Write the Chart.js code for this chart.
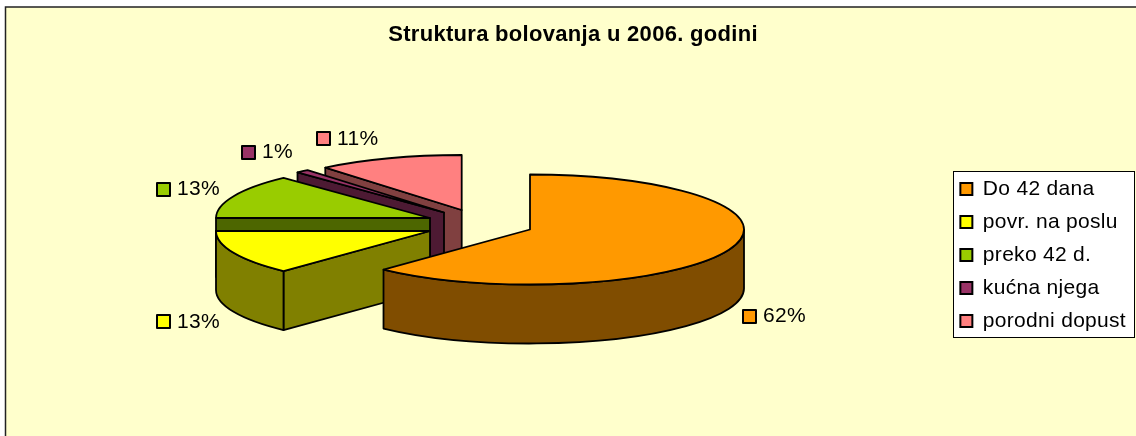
<!DOCTYPE html>
<html>
<head>
<meta charset="utf-8">
<style>
  html, body { margin: 0; padding: 0; background: #fff; overflow: hidden; }
  canvas { display: block; }
</style>
<script src="https://cdn.jsdelivr.net/npm/chart.js"></script>
</head>
<body>
<canvas id="grafikon" width="1136" height="436"></canvas>
<script>
const naslov = 'Struktura bolovanja u 2006. godini';
const kategorije = ['Do 42 dana', 'povr. na poslu', 'preko 42 d.', 'kućna njega', 'porodni dopust'];
const vrijednosti = [62, 13, 13, 1, 11];
const boje = ['#FF9900', '#FFFF00', '#99CC00', '#993366', '#FF8080'];
const bojeStrane = ['#804D00', '#808000', '#4D6600', '#4D1A33', '#804040'];

// flattened pie: centre on screen, vertical squash, thickness
const pieX = 488.5, pieY = 225, squash = 0.257, depth = 59;
const fontName = '"Liberation Sans", Arial, sans-serif';
const lineW = 1.8;

function geom(chart, i) {
  const el = chart.getDatasetMeta(0).data[i];
  const p = el.getProps(['startAngle', 'endAngle', 'outerRadius'], true);
  const ds = chart.data.datasets[0];
  return {
    a0: p.startAngle, a1: p.endAngle, mid: (p.startAngle + p.endAngle) / 2,
    x: pieX + ds.explodeX[i],
    y: pieY + ds.explodeY[i],
    rx: p.outerRadius,
    ry: p.outerRadius * squash
  };
}

function stranaRadijus(ctx, g, a) {
  const ex = g.x + Math.cos(a) * g.rx, ey = g.y + Math.sin(a) * g.ry;
  ctx.beginPath();
  ctx.moveTo(g.x, g.y);
  ctx.lineTo(ex, ey);
  ctx.lineTo(ex, ey + depth);
  ctx.lineTo(g.x, g.y + depth);
  ctx.closePath();
  ctx.fill();
  ctx.stroke();
}

const pie3d = {
  id: 'pie3d',
  beforeUpdate(chart) {
    // reference text runs a bit wider than Liberation at this height
    chart.ctx.letterSpacing = '0.3px';
  },
  afterDatasetsUpdate(chart) {
    // pull the slices apart, explode values are in screen pixels
    const ca = chart.chartArea, ds = chart.data.datasets[0];
    chart.getDatasetMeta(0).data.forEach((el, i) => {
      el.x = (ca.left + ca.right) / 2 + ds.explodeX[i];
      el.y = (ca.top + ca.bottom) / 2 + ds.explodeY[i] / squash;
    });
  },
  beforeDraw(chart) {
    const ctx = chart.ctx;
    ctx.save();
    ctx.fillStyle = '#fff';
    ctx.fillRect(0, 0, chart.width, chart.height);
    ctx.fillStyle = '#FFFFCC';
    ctx.fillRect(5, 7, chart.width, chart.height);
    ctx.strokeStyle = '#222';
    ctx.lineWidth = 1.5;
    ctx.beginPath();
    ctx.moveTo(5.5, chart.height);
    ctx.lineTo(5.5, 7);
    ctx.lineTo(chart.width, 7);
    ctx.stroke();
    // legend box
    const hb = chart.legend.legendHitBoxes, last = hb[hb.length - 1];
    const top = Math.round(hb[0].top + hb[0].height / 2 - 18) + 0.5;
    const bot = Math.round(last.top + last.height / 2 + 16) + 0.5;
    ctx.fillStyle = '#fff';
    ctx.fillRect(953.5, top, 181, bot - top);
    ctx.strokeStyle = '#000';
    ctx.lineWidth = 1;
    ctx.strokeRect(953.5, top, 181, bot - top);
    ctx.restore();
  },
  beforeDatasetsDraw(chart) {
    const ctx = chart.ctx, n = vrijednosti.length, ca = chart.chartArea;
    ctx.save();
    ctx.lineWidth = lineW;
    ctx.strokeStyle = '#000';
    ctx.lineJoin = 'round';
    // sides, back to front
    for (let i = n - 1; i >= 0; i--) {
      const g = geom(chart, i);
      ctx.fillStyle = bojeStrane[i];
      if (Math.cos(g.a0) < -1e-6) stranaRadijus(ctx, g, g.a0);
      if (Math.cos(g.a1) > 1e-6) stranaRadijus(ctx, g, g.a1);
      const lo = Math.max(g.a0, 0), hi = Math.min(g.a1, Math.PI);
      if (hi > lo) {
        ctx.beginPath();
        ctx.ellipse(g.x, g.y, g.rx, g.ry, 0, lo, hi);
        ctx.ellipse(g.x, g.y + depth, g.rx, g.ry, 0, hi, lo, true);
        ctx.closePath();
        ctx.fill();
        ctx.stroke();
      }
    }
    ctx.restore();
    // top faces are the library's own arcs, just flattened
    ctx.save();
    ctx.translate(pieX, pieY);
    ctx.scale(1, squash);
    ctx.translate(-(ca.left + ca.right) / 2, -(ca.top + ca.bottom) / 2);
  },
  afterDatasetsDraw(chart) {
    const ctx = chart.ctx, n = vrijednosti.length;
    ctx.restore();
    ctx.save();
    ctx.lineWidth = lineW;
    ctx.strokeStyle = '#000';
    ctx.lineJoin = 'round';
    for (let i = 0; i < n; i++) {
      const g = geom(chart, i);
      ctx.beginPath();
      ctx.moveTo(g.x, g.y);
      ctx.ellipse(g.x, g.y, g.rx, g.ry, 0, g.a0, g.a1);
      ctx.closePath();
      ctx.stroke();
    }
    // data labels with colour key, placed just outside the rim
    ctx.font = '21px ' + fontName;
    ctx.textBaseline = 'middle';
    ctx.textAlign = 'left';
    const R = 229;
    const nudgeX = [0, 0, 0, 0, -6], nudgeY = [-1, 1, 2, -2, 2];
    for (let i = 0; i < n; i++) {
      const g = geom(chart, i);
      const dirX = Math.cos(g.mid), dirY = Math.sin(g.mid);
      let y = g.y + dirY * R * squash + dirY * 19 + nudgeY[i];
      if (dirY > 0) y += depth;
      const txt = vrijednosti[i] + '%';
      const w = 20 + ctx.measureText(txt).width;
      const left = Math.round(g.x + dirX * R - (dirX < 0 ? w : 0) + nudgeX[i]);
      const sy = Math.round(y - 6.5);
      ctx.fillStyle = boje[i];
      ctx.lineWidth = 2;
      ctx.fillRect(left, sy, 13, 13);
      ctx.strokeRect(left, sy, 13, 13);
      ctx.fillStyle = '#000';
      ctx.fillText(txt, left + 20, y);
    }
    ctx.restore();
  }
};

new Chart(document.getElementById('grafikon'), {
  type: 'pie',
  data: {
    labels: kategorije,
    datasets: [{
      data: vrijednosti,
      backgroundColor: boje,
      borderWidth: 0,
      explodeX: [41.5, -58.5, -58.5, -44.5, -26.8],
      explodeY: [4.5, 6, -7, -12.5, -15],
      radius: 214,
      clip: false
    }]
  },
  plugins: [pie3d],
  options: {
    responsive: false,
    devicePixelRatio: 1,
    animation: false,
    layout: { padding: { left: 10, right: 0, top: 0, bottom: -74 } },
    plugins: {
      tooltip: { enabled: false },
      title: {
        display: true,
        text: naslov,
        color: '#000',
        font: { family: fontName, size: 22, weight: 'bold' },
        padding: { top: 22, bottom: 21 }
      },
      legend: {
        position: 'right',
        labels: {
          color: '#000',
          font: { family: fontName, size: 21 },
          boxWidth: 12,
          boxHeight: 12,
          padding: 12,
          generateLabels(chart) {
            return Chart.overrides.pie.plugins.legend.labels.generateLabels(chart)
              .map(l => ({ ...l, strokeStyle: '#000', lineWidth: 2 }));
          }
        }
      }
    }
  }
});
</script>
</body>
</html>
